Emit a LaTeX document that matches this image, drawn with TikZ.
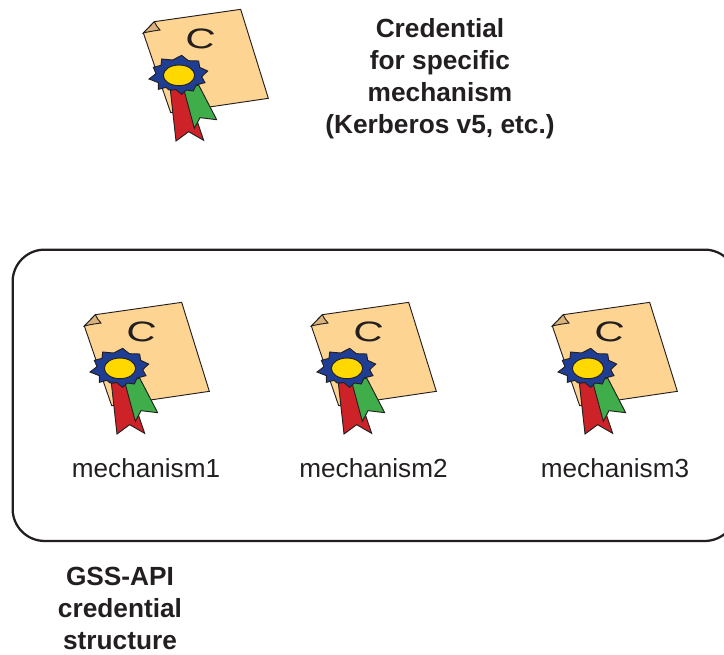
\documentclass[tikz,border=0pt]{standalone}
\usepackage{fontspec}
\setmainfont{Liberation Sans}
\definecolor{paper}{HTML}{FDD492}
\definecolor{fold}{HTML}{D9B27C}
\definecolor{rosette}{HTML}{1F3E93}
\definecolor{centre}{HTML}{FFD800}
\definecolor{redrib}{HTML}{CE2229}
\definecolor{greenrib}{HTML}{3FAE4A}
\definecolor{ink}{HTML}{231F20}
\tikzset{
  x=0.75pt,y=-0.75pt,
  edge/.style={draw=ink,line width=0.7pt,line join=miter},
  plainlabel/.style={text=ink,font=\fontsize{19.6pt}{24pt}\selectfont,inner sep=0pt},
  boldlabel/.style={text=ink,font=\fontsize{19.7pt}{24pt}\selectfont\bfseries,align=center,inner sep=0pt},
  frame/.style={draw=ink,line width=1.7pt,rounded corners=24pt},
  pics/credential/.style={code={
    \begin{scope}[x=0.25pt,y=-0.25pt]
    \path[edge,fill=paper] (73,65) -- (332,28) -- (415,295) -- (122,338) -- (40,99) -- cycle;
    \path[edge,fill=fold] (40,99) -- (73,65) -- (80,78) -- (90,90) .. controls (75,92) and (55,95) .. (40,99) -- cycle;
    \node[text=ink,font=\fontsize{21.3pt}{24pt}\selectfont,xscale=1.45,rotate=-6,transform shape,inner sep=0pt] (#1c) at (211,118) {C};
    \path[edge,fill=redrib] (121,270) -- (168,265) -- (221,421) -- (176,395) -- (138,423) -- cycle;
    \path[edge,fill=greenrib] (162,270) -- (206,255) -- (260,359) -- (210,353) -- (193,385) -- cycle;
    \path[edge,fill=rosette] (155,166) -- (175,182) -- (206,183) -- (209,202) -- (233,213)
      -- (215,230) -- (225,248) -- (198,255) -- (190,273) -- (169,270) -- (155,283)
      -- (138,269) -- (117,270) -- (108,262) -- (85,268) -- (85,248) -- (57,237)
      -- (78,221) -- (70,202) -- (93,196) -- (95,177) -- (128,180) -- cycle;
    \path[edge,fill=centre] (147,226) ellipse [x radius=47,y radius=31];
    \end{scope}
  }}
}
\begin{document}
\begin{tikzpicture}
\useasboundingbox (0,0) rectangle (724,654);
\clip (0,0) rectangle (724,654);
\path (130,0) pic {credential=top};
\path (71,293) pic {credential=a};
\path (298,293) pic {credential=b};
\path (539,293) pic {credential=d};
\node[boldlabel] (title) at (440,78.5) {Credential\\for specific\\mechanism\\(Kerberos v5, etc.)};
\node[frame,minimum width=543pt,minimum height=218.5pt,anchor=north west] (box) at (11.5,248.5) {};
\node[plainlabel] (m1) at (146,468) {mechanism1};
\node[plainlabel] (m2) at (373.5,468) {mechanism2};
\node[plainlabel] (m3) at (615,468) {mechanism3};
\node[boldlabel] (gss) at (120,608) {GSS-API\\credential\\structure};
\end{tikzpicture}
\end{document}
